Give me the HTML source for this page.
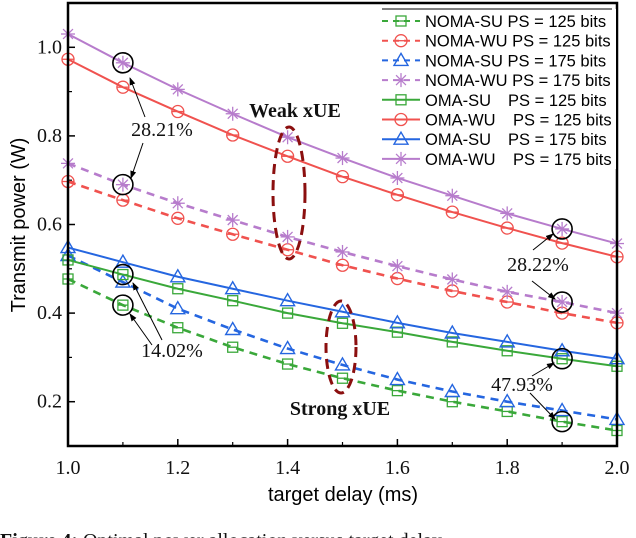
<!DOCTYPE html>
<html><head><meta charset="utf-8"><style>
body{margin:0;background:#fff;width:636px;height:538px;overflow:hidden}
svg{display:block}
.t{font-family:"Liberation Serif",serif;font-size:20px;fill:#111}
.s{font-family:"Liberation Sans",sans-serif;fill:#000}
</style></head><body>
<svg id="c" width="636" height="538">
</svg>
<script>
const xs=[1.0,1.1,1.2,1.3,1.4,1.5,1.6,1.7,1.8,1.9,2.0];
const nomaSu125=[0.477,0.418,0.367,0.323,0.285,0.253,0.225,0.2,0.178,0.155,0.135];
const nomaWu125=[0.697,0.655,0.614,0.578,0.543,0.508,0.478,0.45,0.425,0.4,0.378];
const nomaSu175=[0.53,0.47,0.41,0.363,0.32,0.283,0.25,0.223,0.2,0.18,0.16];
const nomaWu175=[0.738,0.69,0.648,0.61,0.572,0.538,0.506,0.476,0.448,0.425,0.4];
const omaSu125=[0.52,0.487,0.455,0.428,0.4,0.377,0.357,0.335,0.315,0.297,0.28];
const omaWu125=[0.973,0.91,0.855,0.802,0.754,0.708,0.667,0.628,0.592,0.558,0.527];
const omaSu175=[0.548,0.515,0.482,0.455,0.428,0.403,0.378,0.355,0.335,0.315,0.297];
const omaWu175=[1.03,0.965,0.905,0.85,0.797,0.75,0.705,0.665,0.625,0.59,0.557];
const xTicks=[1.0,1.2,1.4,1.6,1.8,2.0];
const yTicks=[0.2,0.4,0.6,0.8,1.0];
const legendNames=["NOMA-SU PS = 125 bits","NOMA-WU PS = 125 bits","NOMA-SU PS = 175 bits","NOMA-WU PS = 175 bits","OMA-SU","OMA-WU","OMA-SU","OMA-WU"];
const legendPS=["","","","","PS = 125 bits","PS = 125 bits","PS = 175 bits","PS = 175 bits"];

const X0=68,X1=617,YT=3,YB=446;
const xs_=v=>X0+(v-1)*(X1-X0);
const ys_=v=>YB-(v-0.1)/1.0*(YB-YT);
const svg=document.getElementById('c');
const NS='http://www.w3.org/2000/svg';
function el(t,a,p){const e=document.createElementNS(NS,t);for(const k in a)e.setAttribute(k,a[k]);(p||svg).appendChild(e);return e;}
const G='#3aa83a',R='#f0524f',B='#2566e0',P='#b77ccc';
const series=[
 {d:nomaSu125,c:G,m:'sq',dash:true,n:'noma-su-125'},
 {d:nomaWu125,c:R,m:'ci',dash:true,n:'noma-wu-125'},
 {d:nomaSu175,c:B,m:'tr',dash:true,n:'noma-su-175'},
 {d:nomaWu175,c:P,m:'st',dash:true,n:'noma-wu-175'},
 {d:omaSu125,c:G,m:'sq',dash:false,n:'oma-su-125'},
 {d:omaWu125,c:R,m:'ci',dash:false,n:'oma-wu-125'},
 {d:omaSu175,c:B,m:'tr',dash:false,n:'oma-su-175'},
 {d:omaWu175,c:P,m:'st',dash:false,n:'oma-wu-175'}];
function marker(m,x,y,c,g){
 if(m==='sq'){el('rect',{x:x-5,y:y-5,width:10,height:10,fill:'none',stroke:c,'stroke-width':1.3},g);el('line',{x1:x-5,x2:x+5,y1:y,y2:y,stroke:c,'stroke-width':1.3},g);}
 else if(m==='ci'){el('circle',{cx:x,cy:y,r:6,fill:'none',stroke:c,'stroke-width':1.3},g);el('line',{x1:x-6,x2:x+6,y1:y,y2:y,stroke:c,'stroke-width':1.3},g);}
 else if(m==='tr'){el('path',{d:`M${x},${y-7}L${x+7},${y+5}L${x-7},${y+5}Z`,fill:'none',stroke:c,'stroke-width':1.4},g);}
 else {for(let a=0;a<4;a++){const an=a*Math.PI/4;el('line',{x1:x-7*Math.cos(an),y1:y-7*Math.sin(an),x2:x+7*Math.cos(an),y2:y+7*Math.sin(an),stroke:c,'stroke-width':1.3},g);}}
}
xTicks.forEach(v=>{const x=xs_(v);el('line',{x1:x,x2:x,y1:YB,y2:YB-7,stroke:'#000','stroke-width':1.5});
 const t=el('text',{x:x,y:YB+28,'text-anchor':'middle',class:'t'});t.textContent=v.toFixed(1);
 });
for(let v=1.1;v<2;v+=0.2){const x=xs_(v);el('line',{x1:x,x2:x,y1:YB,y2:YB-4,stroke:'#000','stroke-width':1.2});}
yTicks.forEach(v=>{const y=ys_(v);el('line',{x1:X0,x2:X0+7,y1:y,y2:y,stroke:'#000','stroke-width':1.5});
 const t=el('text',{x:X0-6,y:y+6,'text-anchor':'end',class:'t'});t.textContent=v.toFixed(1);
 });
for(let v=0.3;v<1.1;v+=0.2){const y=ys_(v);el('line',{x1:X0,x2:X0+4,y1:y,y2:y,stroke:'#000','stroke-width':1.2});}
series.forEach(s=>{const g=el('g',{});
 
 el('polyline',{points:s.d.map((v,i)=>xs_(xs[i])+','+ys_(v)).join(' '),fill:'none',stroke:s.c,'stroke-width':s.dash?2.6:2,'stroke-dasharray':s.dash?'8,6':'none'},g);
 s.d.forEach((v,i)=>marker(s.m,xs_(xs[i]),ys_(v),s.c,g));});
const fr=el('rect',{x:X0,y:YT,width:X1-X0,height:YB-YT,fill:'none',stroke:'#000','stroke-width':2.5});

const lg=el('g',{});
el('rect',{x:382,y:9,width:234,height:160,fill:'#fff'},lg);
el('line',{x1:382,x2:612,y1:9,y2:9,stroke:'#000','stroke-width':1},lg);
legendNames.forEach((l,i)=>{const y=21+i*19.7,s=series[i];
 const e=el('g',{},lg);
 el('line',{x1:382,x2:420,y1:y,y2:y,stroke:s.c,'stroke-width':2,'stroke-dasharray':s.dash?'6,5':'none'},e);
 marker(s.m,401,y,s.c,e);
 const t=el('text',{x:425,y:y+6,class:'s','font-size':'16.5px'},e);t.textContent=l;
 if(legendPS[i]){const t2=el('text',{x:(i%2?513:508),y:y+6,class:'s','font-size':'16.5px'},e);t2.textContent=legendPS[i];}});
function circ(v,xv){el('circle',{cx:xs_(xv),cy:ys_(v),r:10,fill:'none',stroke:'#000','stroke-width':1.6});}
circ(omaWu175[1],1.1);circ(nomaWu175[1],1.1);circ(omaSu125[1],1.1);circ(nomaSu125[1],1.1);
circ(omaWu175[9],1.9);circ(nomaWu175[9],1.9);circ(omaSu125[9],1.9);circ(nomaSu125[9],1.9);
el('defs',{}).innerHTML='<marker id="ah" markerWidth="8" markerHeight="8" refX="7" refY="4" orient="auto"><path d="M0,1L8,4L0,7Z" fill="#000"/></marker>';
function arr(x1,y1,x2,y2){el('line',{x1,y1,x2,y2,stroke:'#000','stroke-width':1,'marker-end':'url(#ah)'});}
function txt(x,y,s,n,extra){const t=el('text',Object.assign({x,y,'text-anchor':'middle',class:'t','font-size':'15px'},extra||{}));t.textContent=s;}
txt(162,136,'28.21%','annotation-28-21');arr(145,117,130,78);arr(143,143,131,178);
txt(538,271,'28.22%','annotation-28-22');arr(533,250,553,234);arr(532,281,555,299);
txt(522,391,'47.93%','annotation-47-93');arr(532,376,554,363);arr(530,393,555,419);
txt(172,357,'14.02%','annotation-14-02');arr(162,340,133,283);arr(152,345,130,314);
txt(295,117,'Weak xUE','weak-xue-label',{'font-weight':'bold','font-size':'16px'});
txt(340,415,'Strong xUE','strong-xue-label',{'font-weight':'bold','font-size':'16px'});
el('ellipse',{cx:289,cy:193,rx:16,ry:66,fill:'none',stroke:'#8b0f0f','stroke-width':3,'stroke-dasharray':'10,6'});
el('ellipse',{cx:341,cy:347,rx:15,ry:46,fill:'none',stroke:'#8b0f0f','stroke-width':3,'stroke-dasharray':'10,6'});
const yt=el('text',{x:0,y:0,'text-anchor':'middle',class:'s','font-size':'20px',transform:'translate(25,225) rotate(-90)'});yt.textContent='Transmit power (W)';

const xt=el('text',{x:343,y:501,'text-anchor':'middle',class:'s','font-size':'20px'});xt.textContent='target delay (ms)';

const cp=el('text',{x:0,y:547,class:'t','font-size':'20px'});cp.innerHTML='<tspan font-weight="bold">Figure 4:</tspan> Optimal power allocation versus target delay';

</script>
</body></html>
